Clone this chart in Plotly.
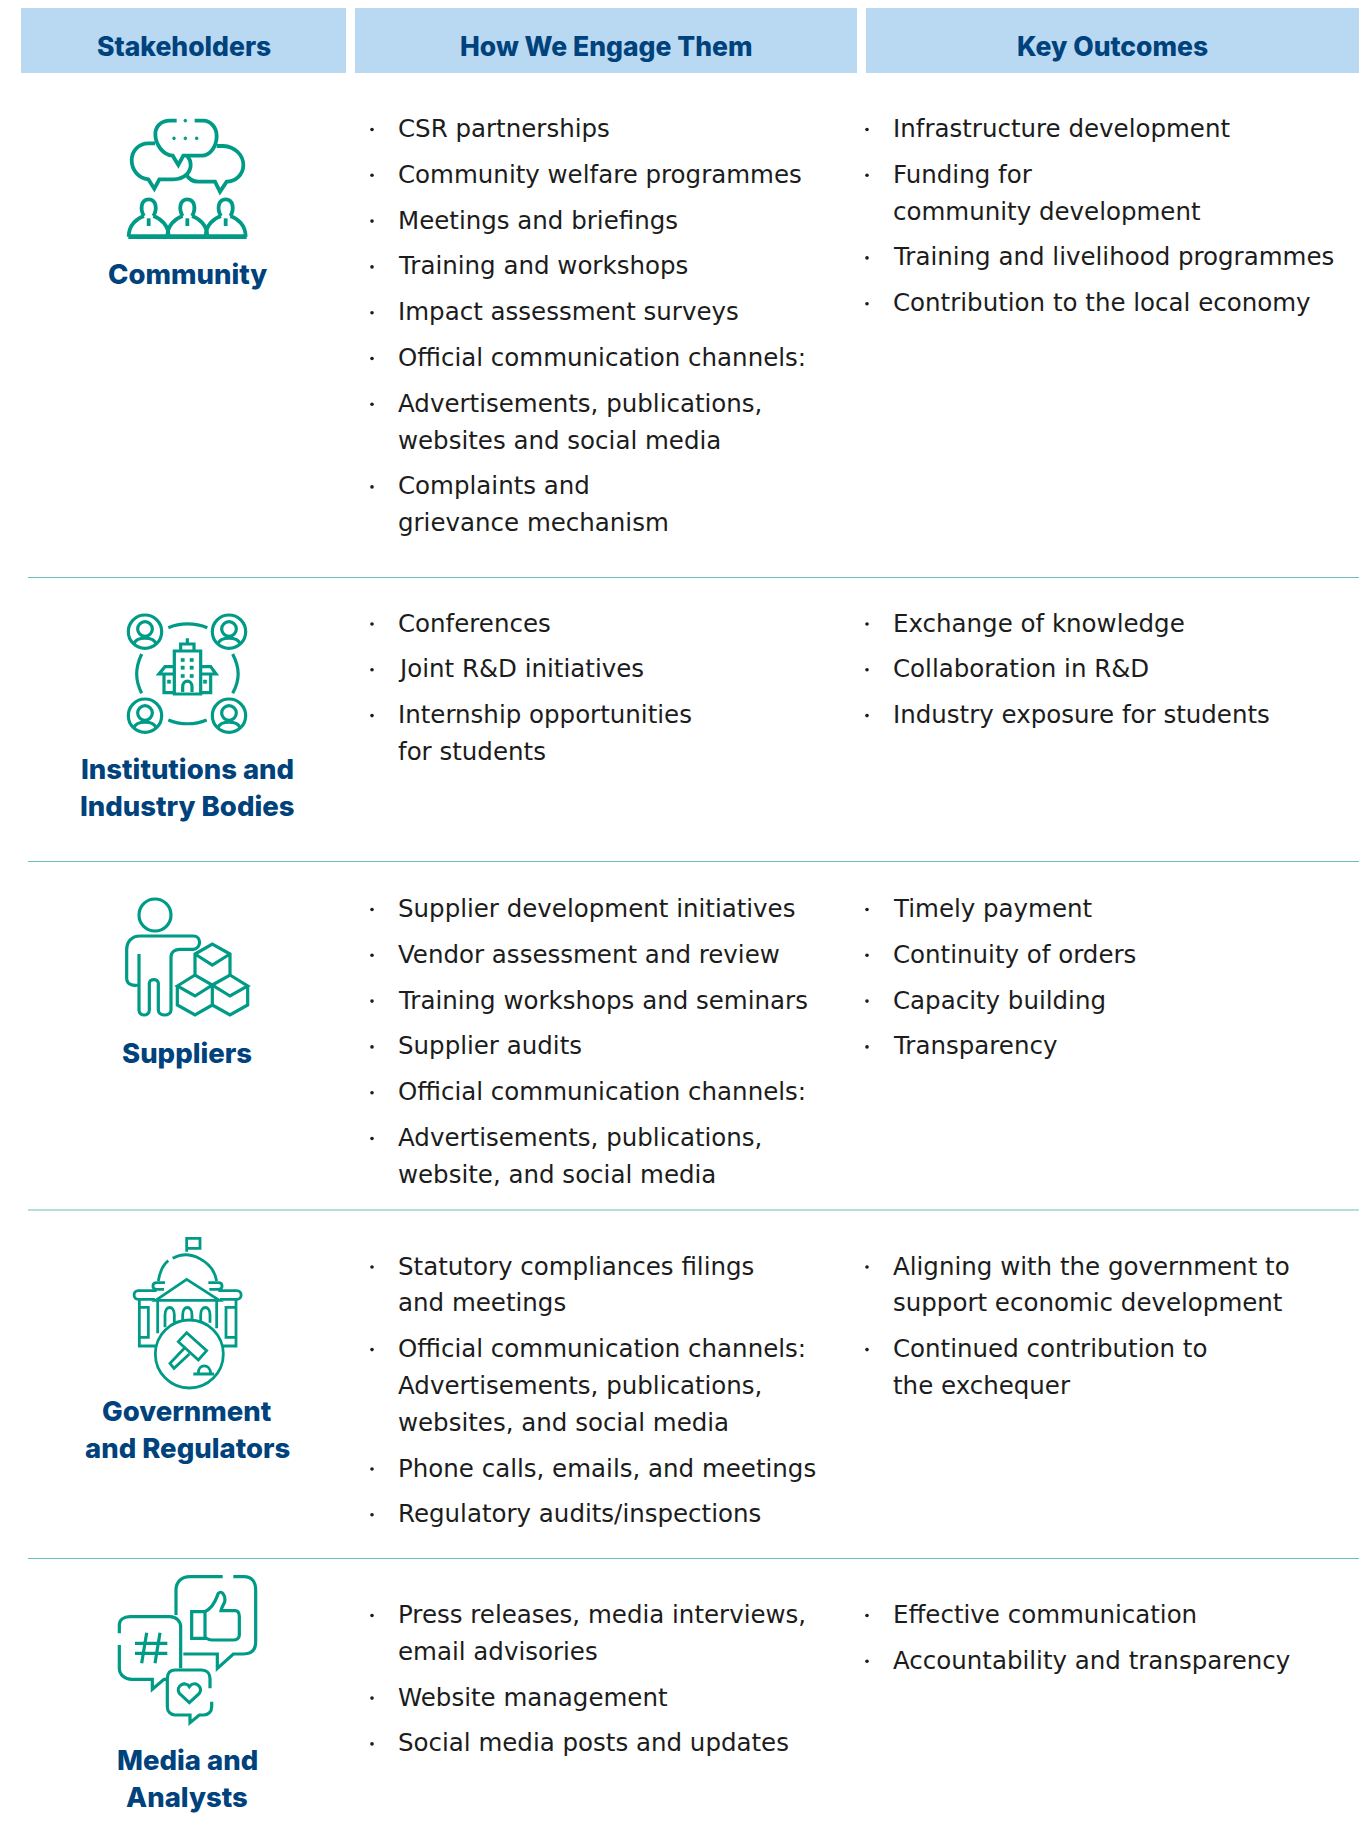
import re
import plotly.graph_objects as go

# ---------- content ----------
headers = ["Stakeholders", "How We Engage Them", "Key Outcomes"]
stakeholders = [
    ["Community"],
    ["Institutions and", "Industry Bodies"],
    ["Suppliers"],
    ["Government", "and Regulators"],
    ["Media and", "Analysts"],
]
engage = [
    [["CSR partnerships"], ["Community welfare programmes"], ["Meetings and briefings"],
     ["Training and workshops"], ["Impact assessment surveys"], ["Official communication channels:"],
     ["Advertisements, publications,", "websites and social media"],
     ["Complaints and", "grievance mechanism"]],
    [["Conferences"], ["Joint R&D initiatives"], ["Internship opportunities", "for students"]],
    [["Supplier development initiatives"], ["Vendor assessment and review"],
     ["Training workshops and seminars"], ["Supplier audits"], ["Official communication channels:"],
     ["Advertisements, publications,", "website, and social media"]],
    [["Statutory compliances filings", "and meetings"],
     ["Official communication channels:", "Advertisements, publications,", "websites, and social media"],
     ["Phone calls, emails, and meetings"], ["Regulatory audits/inspections"]],
    [["Press releases, media interviews,", "email advisories"], ["Website management"],
     ["Social media posts and updates"]],
]
outcomes = [
    [["Infrastructure development"], ["Funding for", "community development"],
     ["Training and livelihood programmes"], ["Contribution to the local economy"]],
    [["Exchange of knowledge"], ["Collaboration in R&D"], ["Industry exposure for students"]],
    [["Timely payment"], ["Continuity of orders"], ["Capacity building"], ["Transparency"]],
    [["Aligning with the government to", "support economic development"],
     ["Continued contribution to", "the exchequer"]],
    [["Effective communication"], ["Accountability and transparency"]],
]

# ---------- layout constants ----------
W, H = 1370, 1833
NAVY, TEAL, BLUE, INK = "#00427c", "#009b87", "#b9d9f3", "#1c1c1c"
BODY_FONT, HEAD_FONT = "DejaVu Sans", "Inter"
BODY_SIZE, HEAD_SIZE = 24.5, 27.5
HEADER_BOXES = [(21, 346), (355, 857), (866, 1359)]
ROW_TOP = [128.5, 623, 908.5, 1266, 1614.5]
NAME_Y = [274, 769, 1053, 1411, 1759.5]
RULES = [577.5, 861.5, 1210, 1558.5]
ICON_LW = 3.2

fig = go.Figure()
shapes, notes = [], []


def text(x, y, s, anchor="left", font=BODY_FONT, size=BODY_SIZE, color=INK, weight=400):
    notes.append(dict(x=x, y=y, xref="x", yref="y", text=s, showarrow=False, xanchor=anchor,
                      yanchor="middle", borderpad=0, borderwidth=0,
                      font=dict(family=font, size=size, color=color, weight=weight)))


for (x0, x1), h in zip(HEADER_BOXES, headers):
    shapes.append(dict(type="rect", xref="x", yref="y", x0=x0, x1=x1, y0=8, y1=73,
                       fillcolor=BLUE, line_width=0, layer="below"))
    text((x0 + x1) / 2, 45.5, h, "center", HEAD_FONT, 26.5, NAVY, 800)

for y in RULES:
    shapes.append(dict(type="line", xref="x", yref="y", x0=28, x1=1359, y0=y, y1=y,
                       line=dict(color="#6cc0b8", width=1.2), layer="below"))

bx, by = [], []


def column(items, y0, xb, xt):
    y = y0
    for item in items:
        bx.append(xb)
        by.append(y + 1)
        for i, line in enumerate(item):
            if i:
                y += 36.8
            text(xt, y, line)
        y += 45.8


for k in range(5):
    column(engage[k], ROW_TOP[k], 372, 397.5)
    column(outcomes[k], ROW_TOP[k], 867, 893)
    for i, line in enumerate(stakeholders[k]):
        text(187, NAME_Y[k] + i * 37, line, "center", HEAD_FONT, HEAD_SIZE, NAVY, 800)

fig.add_trace(go.Scatter(x=bx, y=by, mode="markers", hoverinfo="skip", showlegend=False,
                         marker=dict(size=3.6, color=INK)))


# ---------- icons: paths drawn in a local 3x grid ----------
def P(ox, oy, d, lw=ICON_LW, fill=None):
    def conv(m):
        parts = m.group(0).split()
        out = []
        for j in range(0, len(parts), 2):
            out.append(f"{ox + float(parts[j]) / 3:.2f},{oy + float(parts[j + 1]) / 3:.2f}")
        return " ".join(out)
    path = re.sub(r"-?[\d.]+(?:\s+-?[\d.]+)+", conv, d)
    shapes.append(dict(type="path", xref="x", yref="y", path=path, fillcolor=fill or "rgba(0,0,0,0)",
                       line=dict(color=TEAL, width=lw)))


def C(ox, oy, cx, cy, r, lw=ICON_LW, fill=None):
    shapes.append(dict(type="circle", xref="x", yref="y", x0=ox + (cx - r) / 3, x1=ox + (cx + r) / 3,
                       y0=oy + (cy - r) / 3, y1=oy + (cy + r) / 3, fillcolor=fill or "rgba(0,0,0,0)",
                       line=dict(color=TEAL, width=lw)))


# Community
o = (110, 110)
lw = 3.8
P(*o, "M200 32 L180 32 C150 32 136 52 136 72 C136 105 160 135 188 137 L205 165 L220 137 L275 137 C300 137 320 110 320 78 C320 50 300 32 280 32 L254 32", lw)
for cx in (192, 226, 260):
    C(*o, cx, 85, 4, 1, TEAL)
C(*o, 226, 32, 4, 1, TEAL)
P(*o, "M135 100 L115 100 C85 100 65 125 65 150 C65 180 85 205 115 208 L133 236 L148 208 L190 208 C225 208 242 185 242 165 C242 155 238 145 232 138", lw)
P(*o, "M320 108 L340 108 C375 110 400 135 400 165 C400 195 375 215 350 215 L330 245 L315 215 L265 215 C245 215 235 205 228 192", lw)
P(*o, "M55 380 L410 380", lw + 0.8)
for cx in (116, 232, 347):
    P(*o, f"M{cx-14} 318 C{cx-26} 300 {cx-24} 268 {cx} 268 C{cx+24} 268 {cx+26} 300 {cx+14} 318", lw)
    P(*o, f"M{cx-14} 318 C{cx-35} 325 {cx-60} 345 {cx-60} 380 M{cx+14} 318 C{cx+35} 325 {cx+60} 345 {cx+60} 380", lw)
    P(*o, f"M{cx} 325 L{cx} 348", lw)

# Institutions
o = (90, 590)
for cx in (165, 417):
    for cy in (125, 377):
        C(*o, cx, cy, 50)
        C(*o, cx, cy - 8, 22)
        P(*o, f"M{cx-33} {cy+36} C{cx-25} {cy+14} {cx+25} {cy+14} {cx+33} {cy+36}")
P(*o, "M235 113 C270 98 315 98 352 113 M235 390 C270 405 315 405 350 390")
P(*o, "M155 192 C135 235 135 270 155 310 M428 192 C450 235 450 270 428 310")
P(*o, "M253 312 L253 183 L332 183 L332 312 Z M272 183 L272 162 L312 162 L312 183 M292 162 L292 145")
P(*o, "M253 230 L225 230 L207 252 L253 252 M222 252 L222 308 L253 308 M332 230 L362 230 L378 252 L332 252 M362 252 L362 308 L332 308")
P(*o, "M278 306 L278 290 C278 268 306 268 306 290 L306 306")
for (wx, wy) in [(278, 210), (305, 210), (278, 233), (305, 233), (278, 258), (305, 258), (237, 275), (345, 275)]:
    P(*o, f"M{wx-5} {wy-5} L{wx+5} {wy-5} L{wx+5} {wy+5} L{wx-5} {wy+5} Z", 0.5, TEAL)

# Suppliers
o = (90, 880)
C(*o, 195, 105, 48)
P(*o, "M147 222 L147 390 C147 410 178 410 178 390 L178 310 C178 295 205 295 205 310 L205 390 C205 410 243 410 243 390 L243 232 C243 215 255 208 270 208 L310 208 C335 205 335 168 310 168 L150 168 C125 168 110 185 110 210 L110 295 C110 315 130 318 147 315")
P(*o, "M315 285 L315 222 L367 192 L420 222 L420 285 M315 222 L367 255 L420 222")
P(*o, "M262 318 L315 285 L367 315 L315 348 Z M262 318 L262 375 L315 405 L367 375 L367 315 M315 348 L315 348")
P(*o, "M367 315 L420 285 L473 318 L420 348 Z M473 318 L473 375 L420 405 L367 375")

# Government
o = (90, 1220)
lw = 2.8
P(*o, "M290 95 L290 55 L330 55 L330 85 L290 85", lw)
P(*o, "M205 183 C210 150 225 130 235 122 M248 115 C300 85 370 125 380 183", lw)
P(*o, "M225 188 L200 188 C185 188 185 208 200 208 L222 208 M355 188 L385 188 C400 188 400 208 385 208 L358 208", lw)
P(*o, "M197 241 L290 178 L388 241 Z", lw)
P(*o, "M200 212 L145 212 C128 212 128 238 145 238 L195 238 M385 212 L440 212 C458 212 458 238 440 238 L390 238", lw)
P(*o, "M148 238 L148 378 L200 378 M438 238 L438 378 L395 378", lw)
P(*o, "M148 262 L175 262 L175 352 L148 352 M438 262 L408 262 L408 352 L438 352", lw)
P(*o, "M203 241 L203 340 M380 241 L380 325", lw)
for ax in (225, 278, 332):
    P(*o, f"M{ax} 322 L{ax} 285 C{ax} 255 {ax+28} 255 {ax+28} 285 L{ax+28} 308", lw)
C(*o, 298, 402, 102, lw, "white")
P(*o, "M290 338 L350 392 L325 420 L265 365 Z M283 385 L240 430 L252 445 L298 402", lw)
P(*o, "M310 462 L372 462 M325 460 C325 430 360 430 362 460", lw)

# Media
o = (90, 1560)
P(*o, "M398 50 L300 50 C275 50 258 65 258 90 L258 165 M430 50 L462 50 C485 50 497 65 497 90 L497 245 C497 270 485 282 460 282 L430 282 L382 325 L382 282 L280 282")
P(*o, "M305 155 L345 155 L345 235 L305 235 Z")
P(*o, "M345 155 C375 140 380 110 385 100 C395 90 405 105 405 120 C405 130 395 140 393 152 L435 152 C445 152 448 160 448 170 L448 225 C448 235 440 240 430 240 L365 240 C355 240 350 235 345 232")
P(*o, "M88 220 L88 195 C88 180 100 170 120 170 L240 170 C260 170 272 185 272 200 L272 325 M88 255 L88 325 C88 345 105 358 125 358 L187 358 L187 388 L222 358 L232 358")
P(*o, "M170 218 L155 310 M210 218 L195 310 M135 250 L232 250 M135 280 L232 280")
P(*o, "M360 385 L360 355 C360 340 350 330 335 330 L255 330 C240 330 232 340 232 355 L232 440 C232 455 242 465 255 465 L300 465 L300 488 L328 465 L342 465 C355 465 365 455 365 440 L365 425")
P(*o, "M298 428 L268 400 C255 380 285 360 298 380 C312 360 342 380 328 400 Z")

fig.update_layout(
    width=W, height=H, margin=dict(l=0, r=0, t=0, b=0), paper_bgcolor="white", plot_bgcolor="white",
    showlegend=False, shapes=shapes, annotations=notes,
    xaxis=dict(range=[0, W], visible=False, fixedrange=True),
    yaxis=dict(range=[H, 0], visible=False, fixedrange=True),
)
fig.write_html("out.html", config={"displayModeBar": False},
               post_script="document.body.style.margin='0';document.body.style.overflow='hidden';")
